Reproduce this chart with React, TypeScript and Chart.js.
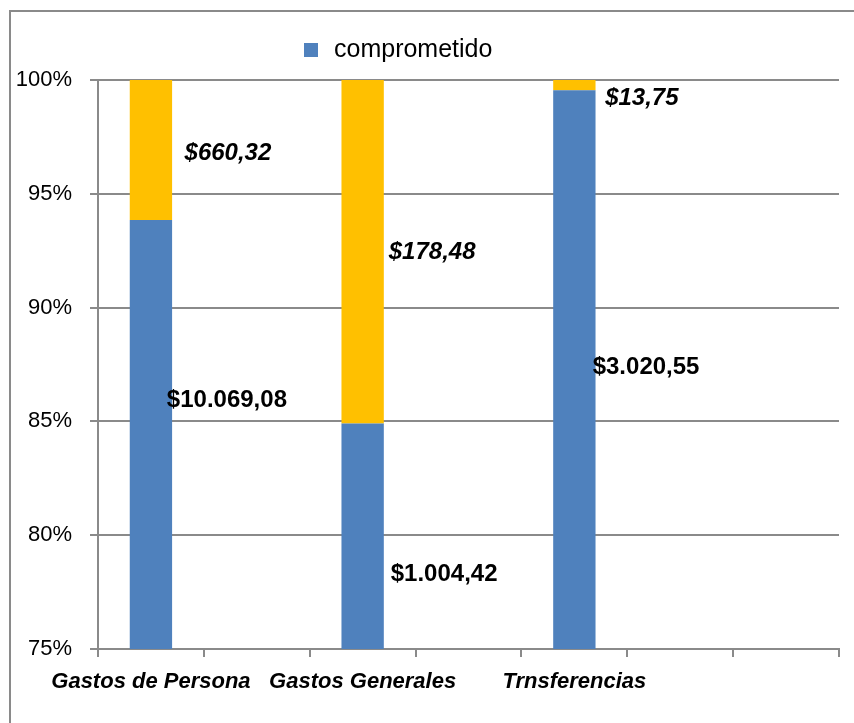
import { useEffect, useRef } from 'react';
import { Chart, registerables } from 'chart.js';

Chart.register(...registerables);

// ---- data ----
const categories = ['Gastos de Persona', 'Gastos Generales', 'Trnsferencias'];
const comprometido = [10069.08, 1004.42, 3020.55];
const restante = [660.32, 178.48, 13.75];
const seriesNames = ['comprometido', ''];
const yMin = 75;
const yMax = 100;
const yStep = 5;
const slotCount = 7; // category slots on the x axis (bars in every other slot)

// ---- label nudges (layout only, px relative to segment centre) ----
const blueNudge = [[76, -34], [81.5, 38.5], [71.7, -2.5]];
const yellowNudge = [[77, 3.5], [69.5, 1], [67.5, 13]];

const BLUE = '#4F81BD';
const YELLOW = '#FFC000';
const GRAY = '#8a8a8a';
const FONT = '"Liberation Sans", Arial, sans-serif';

function money(v: number): string {
  const [i, d] = v.toFixed(2).split('.');
  const withDots = i.replace(/\B(?=(\d{3})+(?!\d))/g, '.');
  return '$' + withDots + ',' + d;
}

export default function App() {
  const ref = useRef<HTMLCanvasElement | null>(null);

  useEffect(() => {
    if (!ref.current) return;
    const axisLabels: string[] = [];
    const blueData: (number | null)[] = [];
    const yellowData: (number | null)[] = [];
    const slotIndex: number[] = [];
    for (let s = 0; s < slotCount; s++) {
      axisLabels.push('');
      blueData.push(null);
      yellowData.push(null);
    }
    categories.forEach((c, i) => {
      const s = i * 2;
      slotIndex.push(s);
      axisLabels[s] = c;
      const total = comprometido[i] + restante[i];
      blueData[s] = (comprometido[i] / total) * 100;
      yellowData[s] = (restante[i] / total) * 100;
    });

    const decor = {
      id: 'decor',
      beforeDraw(chart: any) {
        const ctx = chart.ctx;
        ctx.save();
        ctx.fillStyle = '#fff';
        ctx.fillRect(0, 0, chart.width, chart.height);
        ctx.strokeStyle = GRAY;
        ctx.lineWidth = 2;
        ctx.beginPath();
        ctx.moveTo(10, chart.height);
        ctx.lineTo(10, 11);
        ctx.lineTo(chart.width, 11);
        ctx.stroke();
        // legend
        ctx.fillStyle = BLUE;
        ctx.fillRect(304, 43, 14, 14);
        ctx.fillStyle = '#000';
        ctx.font = `25px ${FONT}`;
        ctx.textBaseline = 'middle';
        ctx.textAlign = 'left';
        ctx.fillText(seriesNames[0], 334, 50);
        ctx.restore();
      },
      afterDatasetsDraw(chart: any) {
        const ctx = chart.ctx;
        const area = chart.chartArea;
        ctx.save();
        ctx.fillStyle = '#000';
        ctx.textAlign = 'center';
        ctx.textBaseline = 'middle';
        [0, 1].forEach((d) => {
          const meta = chart.getDatasetMeta(d);
          const values = d === 0 ? comprometido : restante;
          const nudge = d === 0 ? blueNudge : yellowNudge;
          ctx.font = d === 0 ? `bold 24px ${FONT}` : `italic bold 24px ${FONT}`;
          categories.forEach((_, i) => {
            const el: any = meta.data[slotIndex[i]];
            if (!el) return;
            const top = Math.max(Math.min(el.y, el.base), area.top);
            const bottom = Math.min(Math.max(el.y, el.base), area.bottom);
            const cy = (top + bottom) / 2;
            ctx.fillText(money(values[i]), el.x + nudge[i][0], cy + nudge[i][1]);
          });
        });
        ctx.restore();
      },
    };

    const chart = new Chart(ref.current, {
      type: 'bar',
      data: {
        labels: axisLabels,
        datasets: [
          { label: seriesNames[0], data: blueData, backgroundColor: BLUE, borderWidth: 0 },
          { label: seriesNames[1], data: yellowData, backgroundColor: YELLOW, borderWidth: 0 },
        ],
      },
      options: {
        responsive: false,
        animation: false,
        layout: { padding: { left: 0, right: 15, top: 80, bottom: 0 } },
        datasets: { bar: { barPercentage: 0.4, categoryPercentage: 1 } },
        plugins: {
          legend: { display: false },
          tooltip: { enabled: false },
          title: { display: false },
        },
        scales: {
          x: {
            stacked: true,
            offset: true,
            grid: { drawOnChartArea: false, drawTicks: true, tickLength: 8, color: GRAY, lineWidth: 2, offset: true },
            border: { display: true, color: GRAY, width: 2 },
            ticks: {
              autoSkip: false,
              maxRotation: 0,
              minRotation: 0,
              padding: 12,
              color: '#000',
              font: { family: FONT, size: 22, style: 'italic', weight: 'bold' },
            },
            afterFit(scale: any) {
              scale.height = 74;
            },
          },
          y: {
            stacked: true,
            min: yMin,
            max: yMax,
            grid: { drawTicks: true, tickLength: 8, color: GRAY, lineWidth: 2 },
            border: { display: true, color: GRAY, width: 2 },
            ticks: {
              stepSize: yStep,
              padding: 18,
              color: '#000',
              font: { family: FONT, size: 22 },
              callback: (v: any) => `${v}%`,
            },
            afterFit(scale: any) {
              scale.width = 98;
            },
          },
        },
      },
      plugins: [decor],
    });
    return () => chart.destroy();
  }, []);

  return (
    <div style={{ position: 'absolute', left: 0, top: 0, width: 854, height: 723, background: '#fff' }}>
      <canvas ref={ref} width={854} height={723} style={{ display: 'block' }} />
    </div>
  );
}
